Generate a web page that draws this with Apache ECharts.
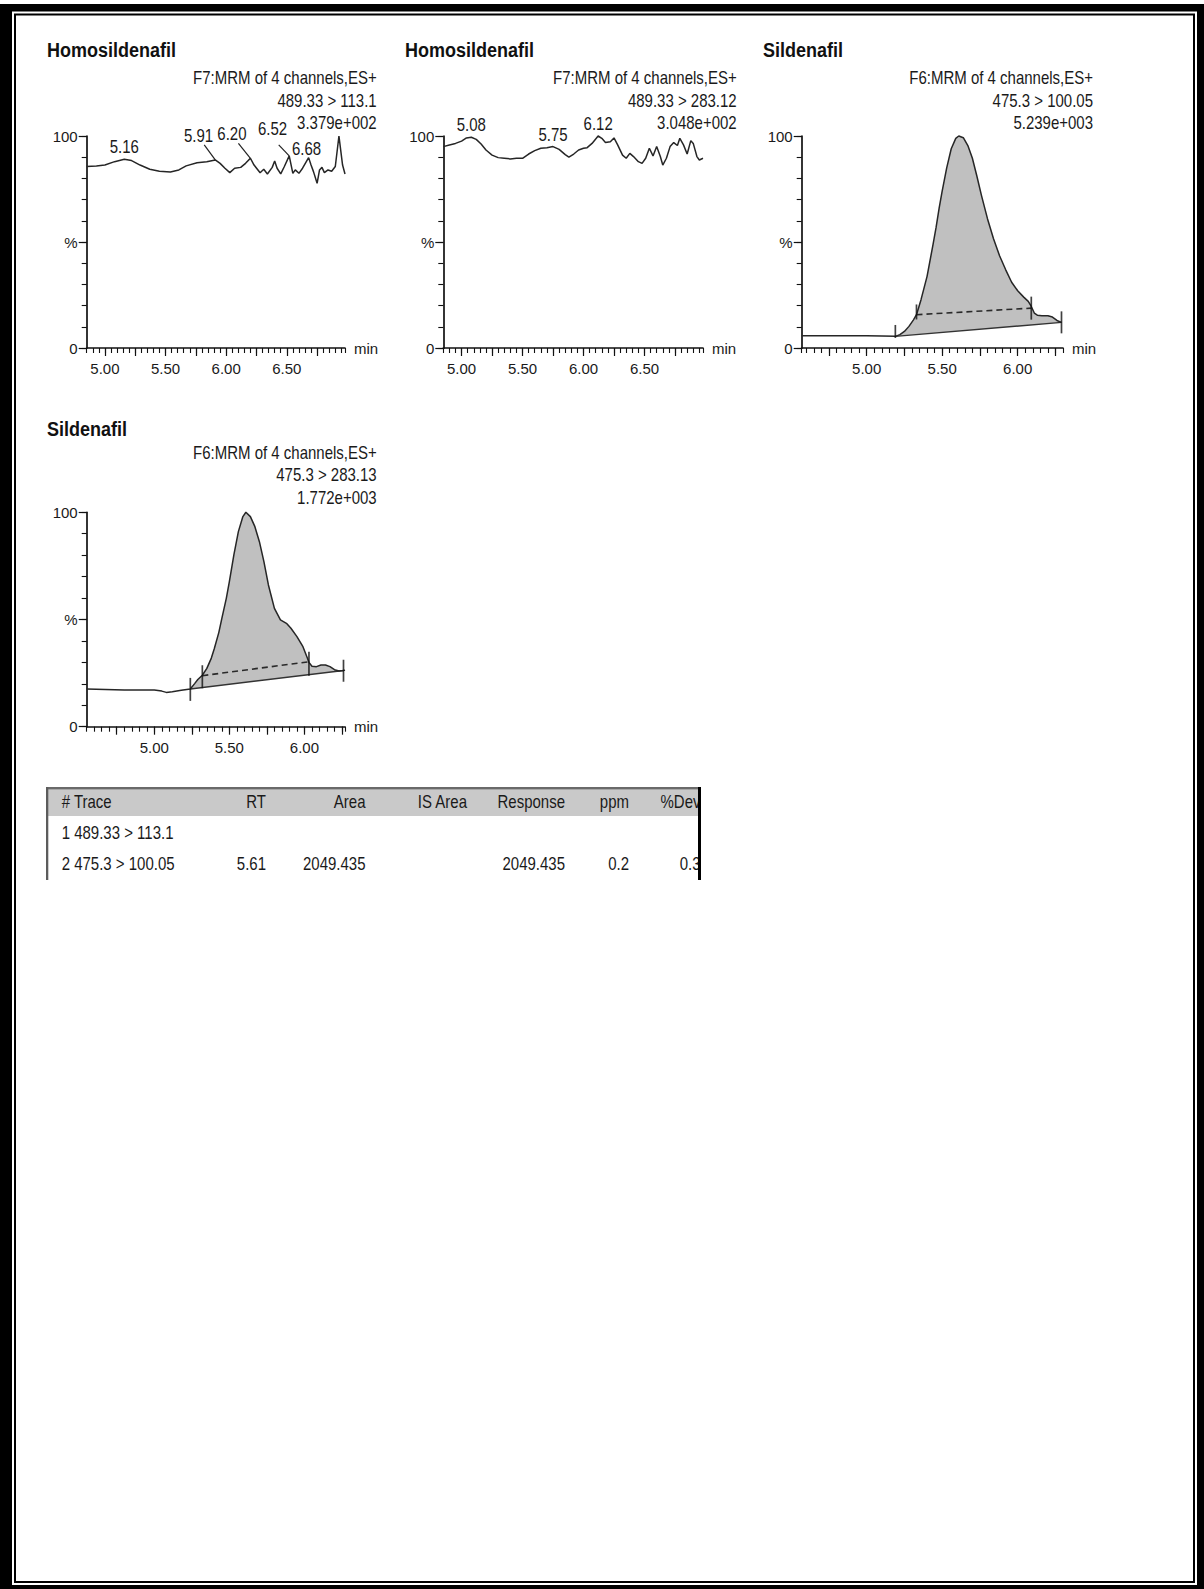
<!DOCTYPE html>
<html>
<head>
<meta charset="utf-8">
<title>MRM chromatograms – Homosildenafil / Sildenafil</title>
<script src="https://cdn.jsdelivr.net/npm/echarts@6/dist/echarts.min.js"></script>
<style>
  html, body { margin: 0; padding: 0; background: #fff; }
  #page { width: 1204px; height: 1589px; }
</style>
</head>
<body>
<div id="page"></div>
<script>
// ---------------- Data ----------------
// Homosildenafil, F7 MRM 489.33 > 113.1 (retention time, min / relative intensity, %)
const homo1Time = [4.85,4.93,5.00,5.08,5.16,5.22,5.29,5.37,5.45,5.54,5.61,5.67,5.76,5.84,5.91,5.95,5.99,6.03,6.07,6.12,6.16,6.20,6.23,6.28,6.31,6.34,6.38,6.40,6.42,6.45,6.48,6.52,6.55,6.57,6.60,6.63,6.68,6.70,6.72,6.75,6.77,6.79,6.81,6.84,6.87,6.90,6.93,6.96,6.98];
const homo1Pct  = [85.6,85.9,86.3,87.9,89.0,88.4,86.3,84.3,83.4,83.0,84.0,85.9,87.4,87.9,88.7,87.1,84.8,82.7,84.8,85.2,87.1,89.5,86.3,82.7,84.3,82.1,85.2,88.2,84.8,82.1,85.6,90.6,82.4,84.0,82.4,84.8,89.8,86.3,83.2,77.7,84.0,85.2,82.7,84.0,83.4,85.6,100,86.3,82.1];
const homo1Peaks = [5.16, 5.91, 6.20, 6.52, 6.68];
const homo1Info = ['F7:MRM of 4 channels,ES+', '489.33 > 113.1', '3.379e+002'];

// Homosildenafil, F7 MRM 489.33 > 283.12
const homo2Time = [4.85,4.90,4.95,5.00,5.04,5.08,5.12,5.16,5.20,5.25,5.30,5.35,5.40,5.45,5.50,5.55,5.60,5.65,5.70,5.75,5.80,5.85,5.88,5.92,5.96,6.00,6.03,6.07,6.12,6.15,6.18,6.22,6.25,6.28,6.32,6.35,6.38,6.41,6.45,6.48,6.51,6.54,6.57,6.60,6.63,6.65,6.68,6.71,6.74,6.77,6.79,6.82,6.85,6.88,6.90,6.93,6.95,6.98];
const homo2Pct  = [95.0,95.8,96.5,97.6,99.1,99.4,98.4,96.2,93.4,91.0,89.8,89.5,89.2,89.5,89.5,91.5,93.1,94.2,94.5,95.0,93.7,91.2,90.0,91.5,93.4,94.2,94.5,96.5,100,98.9,96.9,97.3,99.1,95.8,91.0,89.5,91.8,90.3,87.9,87.1,89.5,94.2,90.6,95.0,90.3,86.3,89.5,95.0,96.9,95.5,98.9,95.8,91.5,97.8,96.5,90.3,88.7,89.5];
const homo2Peaks = [5.08, 5.75, 6.12];
const homo2Info = ['F7:MRM of 4 channels,ES+', '489.33 > 283.12', '3.048e+002'];

// Sildenafil, F6 MRM 475.3 > 100.05
const sil1Time = [4.57,4.80,5.00,5.10,5.19,5.22,5.25,5.28,5.31,5.33,5.36,5.40,5.44,5.46,5.48,5.50,5.53,5.56,5.59,5.61,5.64,5.67,5.70,5.73,5.76,5.80,5.84,5.88,5.92,5.96,6.00,6.04,6.07,6.09,6.11,6.13,6.16,6.20,6.23,6.26,6.29];
const sil1Pct  = [5.8,5.8,5.8,5.7,5.5,6.3,7.8,10.2,13.3,15.7,22.8,33.8,49.0,57.0,66.0,74.0,85.0,94.0,98.9,100,99.2,95.5,89.5,81.0,72.0,61.0,51.5,43.5,37.0,31.0,27.0,24.0,22.0,19.6,16.5,15.5,15.2,15.2,14.6,13.0,12.1];
const sil1Baseline = [[5.19, 5.5], [6.29, 12.1]];
const sil1Dashed   = [[5.33, 15.7], [6.09, 18.8]];
const sil1Marks    = [[5.19, 7.8], [5.33, 17.0], [6.09, 18.8], [6.29, 12.1]];
const sil1Info = ['F6:MRM of 4 channels,ES+', '475.3 > 100.05', '5.239e+003'];

// Sildenafil, F6 MRM 475.3 > 283.13
const sil2Time = [4.55,4.80,5.00,5.05,5.08,5.12,5.18,5.24,5.27,5.29,5.32,5.35,5.38,5.40,5.43,5.45,5.48,5.50,5.53,5.56,5.59,5.61,5.64,5.67,5.70,5.73,5.76,5.80,5.84,5.88,5.91,5.95,5.99,6.02,6.03,6.05,6.08,6.11,6.14,6.17,6.20,6.23,6.26,6.27];
const sil2Pct  = [17.6,17.1,17.1,16.6,16.0,16.3,17.0,17.6,20.2,22.0,24.0,27.2,32.0,36.5,44.0,50.5,60.0,67.7,80.1,91.0,98.0,100,98.0,93.3,86.3,77.0,66.1,55.2,49.8,48.2,45.9,42.0,37.3,31.9,30.0,28.2,28.0,28.8,28.8,28.0,26.6,26.0,26.2,26.4];
const sil2Baseline = [[5.24, 17.6], [6.26, 26.2]];
const sil2Dashed   = [[5.32, 23.8], [6.03, 30.3]];
const sil2Marks    = [[5.24, 17.4], [5.32, 23.3], [6.03, 29.4], [6.26, 26.1]];
const sil2Info = ['F6:MRM of 4 channels,ES+', '475.3 > 283.13', '1.772e+003'];

// Axis ranges and tick labels
const homoRange = [4.85, 6.98];
const sil1Range = [4.57, 6.30];
const sil2Range = [4.55, 6.27];
const homoMajorTicks = [5.00, 5.25, 5.50, 5.75, 6.00, 6.25, 6.50, 6.75];
const homoTickLabels = [5.00, 5.50, 6.00, 6.50];
const silMajorTicks  = [4.75, 5.00, 5.25, 5.50, 5.75, 6.00, 6.25];
const silTickLabels  = [5.00, 5.50, 6.00];
const yLabelValues = [0, 50, 100];
const yLabelText = { 0: '0', 50: '%', 100: '100' };

// Quantitation table
const tableHeader = ['# Trace', 'RT', 'Area', 'IS Area', 'Response', 'ppm', '%Dev'];
const tableRows = [
  ['1 489.33 > 113.1', '', '', '', '', '', ''],
  ['2 475.3 > 100.05', '5.61', '2049.435', '', '2049.435', '0.2', '0.3']
];

// ---------------- Layout & style ----------------
const FONT = '"Liberation Sans", Arial, Helvetica, sans-serif';
const INK = '#1a1a1a';
const TRACE = '#262626';
const FILL = '#c0c0c0';
const TEXT_STRETCH = 1.18;   // report typeface is drawn slightly tall

const gridBoxes = [
  { left: 86.7,  top: 136,   width: 258.3, height: 212 },
  { left: 443.3, top: 136,   width: 259.7, height: 212 },
  { left: 801.7, top: 136,   width: 261.3, height: 212 },
  { left: 86.7,  top: 512.3, width: 258.3, height: 214.4 }
];
const titlePos = [[47, 50], [405, 50], [763, 50], [47, 429]];
const infoPos  = [[376.7, 78], [736.7, 78], [1093, 78], [376.7, 452.5]];
const infoStep = 22.5;

// label offsets (px) from the labelled apex, and optional leader line end
const homo1LabelOffset = [[0, -12.7], [-16.7, -24], [-18.5, -25], [-16.7, -27.7], [-2, -9.5]];
const homo1Leader      = [null, [-11, -15], [-12, -15], [-10.5, -11], null];
const homo2LabelOffset = [[0, -12.5], [0, -12], [0, -12.7]];
const homo2Leader      = [null, null, null];
const sil1MarkHeight = [13, 15, 23, 22];
const sil2MarkHeight = [23, 23, 24, 22];

const tableCols = [
  { x: 61.7,  align: 'left' },
  { x: 266,   align: 'right' },
  { x: 365.5, align: 'right' },
  { x: 467,   align: 'right' },
  { x: 565,   align: 'right' },
  { x: 629,   align: 'right' },
  { x: 700.5, align: 'right' }
];
const tableHeaderY = 802;
const tableRowY = [833, 863.5];

// ---------------- Helpers ----------------
const zip = (xs, ys) => xs.map((x, i) => [x, ys[i]]);
const textStyle = (size, weight) => ({ fontFamily: FONT, fontSize: size, fontWeight: weight || 'normal', color: INK });

function textEl(x, y, text, font, align, z) {
  return {
    type: 'text', x, y, z, scaleY: TEXT_STRETCH,
    style: { text, font, fill: INK, align, verticalAlign: 'middle', textAlign: align, textVerticalAlign: 'middle' }
  };
}

function timeAxes(gi, range, majorTicks, labels) {
  return [
    {
      type: 'value', gridIndex: gi, position: 'bottom', min: range[0], max: range[1],
      axisLine: { show: true, onZero: false, lineStyle: { color: '#111', width: 1.7 } },
      axisTick: { show: true, length: 8, customValues: majorTicks, lineStyle: { color: '#111', width: 1.2 } },
      axisLabel: { show: true, customValues: labels, margin: 13, formatter: v => v.toFixed(2), ...textStyle(15) },
      splitLine: { show: false },
      name: 'min', nameLocation: 'end', nameGap: 9,
      nameTextStyle: { ...textStyle(15), verticalAlign: 'middle', align: 'left' }
    },
    {
      type: 'value', gridIndex: gi, position: 'bottom', min: range[0], max: range[1],
      minInterval: 0.05, maxInterval: 0.05,
      axisLine: { show: false, onZero: false },
      axisTick: { show: true, length: 5, lineStyle: { color: '#111', width: 1.1 } },
      axisLabel: { show: false }, splitLine: { show: false }
    }
  ];
}

function pctAxes(gi) {
  return [
    {
      type: 'value', gridIndex: gi, position: 'left', min: 0, max: 100,
      axisLine: { show: true, onZero: false, lineStyle: { color: '#111', width: 1.7 } },
      axisTick: { show: true, length: 8, customValues: yLabelValues, lineStyle: { color: '#111', width: 1.2 } },
      axisLabel: { show: true, customValues: yLabelValues, margin: 9, formatter: v => yLabelText[v] ?? '', ...textStyle(15) },
      splitLine: { show: false }
    },
    {
      type: 'value', gridIndex: gi, position: 'left', min: 0, max: 100, interval: 10,
      axisLine: { show: false, onZero: false },
      axisTick: { show: true, length: 5, lineStyle: { color: '#111', width: 1.1 } },
      axisLabel: { show: false }, splitLine: { show: false }
    }
  ];
}

function traceSeries(gi, time, pct) {
  return {
    type: 'line', xAxisIndex: 2 * gi, yAxisIndex: 2 * gi, data: zip(time, pct),
    showSymbol: false, symbol: 'none', clip: false, z: 4, silent: true,
    lineStyle: { color: TRACE, width: 1.5 }
  };
}

function peakLabelSeries(gi, time, pct, peaks, offsets, leaders) {
  const data = peaks.map(t => [t, pct[time.indexOf(t)]]);
  return {
    type: 'custom', xAxisIndex: 2 * gi, yAxisIndex: 2 * gi, data, z: 6, silent: true, clip: false,
    renderItem(params, api) {
      const t = api.value(0);
      const pt = api.coord([t, api.value(1)]);
      const off = offsets[params.dataIndex];
      const ld = leaders[params.dataIndex];
      const children = [textEl(pt[0] + off[0], pt[1] + off[1], t.toFixed(2), '15px ' + FONT, 'center', 0)];
      if (ld) {
        children.push({
          type: 'line',
          shape: { x1: pt[0], y1: pt[1], x2: pt[0] + ld[0], y2: pt[1] + ld[1] },
          style: { stroke: '#222', lineWidth: 1.2 }
        });
      }
      return { type: 'group', children };
    }
  };
}

function integrationSeries(gi, time, pct, baseline, dashed, marks, markHeights) {
  const x0 = baseline[0][0], x1 = baseline[1][0];
  const upper = zip(time, pct).filter(p => p[0] >= x0 && p[0] <= x1);
  return [
    { // shaded peak area between the trace and the integration baseline
      type: 'custom', xAxisIndex: 2 * gi, yAxisIndex: 2 * gi, data: [baseline[0]], z: 1, silent: true, clip: false,
      renderItem(params, api) {
        const pts = upper.map(p => api.coord(p));
        pts.push(api.coord(baseline[1]));
        pts.push(api.coord(baseline[0]));
        return { type: 'polygon', shape: { points: pts }, style: { fill: FILL, stroke: 'none' } };
      }
    },
    {
      type: 'line', xAxisIndex: 2 * gi, yAxisIndex: 2 * gi, data: baseline, symbol: 'none', z: 3, silent: true,
      lineStyle: { color: '#333', width: 1.4 }
    },
    {
      type: 'line', xAxisIndex: 2 * gi, yAxisIndex: 2 * gi, data: dashed, symbol: 'none', z: 3, silent: true,
      lineStyle: { color: '#2a2a2a', width: 1.6, type: [6, 4] }
    },
    {
      type: 'scatter', xAxisIndex: 2 * gi, yAxisIndex: 2 * gi, data: marks, z: 5, silent: true, clip: false,
      symbol: 'rect', symbolSize: (v, p) => [1.7, markHeights[p.dataIndex]],
      itemStyle: { color: '#111' }
    }
  ];
}

// ---------------- Page decorations: titles, channel info, table, frame ----------------
const titles = ['Homosildenafil', 'Homosildenafil', 'Sildenafil', 'Sildenafil'];
const infos = [homo1Info, homo2Info, sil1Info, sil2Info];
const graphics = [];

titles.forEach((t, i) => {
  const el = textEl(titlePos[i][0], titlePos[i][1], t, 'bold 18px ' + FONT, 'left', 10);
  el.scaleY = 1.08;
  el.style.fill = '#111';
  graphics.push(el);
  infos[i].forEach((line, k) => {
    graphics.push(textEl(infoPos[i][0], infoPos[i][1] + k * infoStep, line, '15px ' + FONT, 'right', 10));
  });
});

// table header band
graphics.push({ type: 'rect', z: 10, shape: { x: 46, y: 789.5, width: 653, height: 26.5 }, style: { fill: '#c9c9c9' } });
graphics.push({ type: 'rect', z: 10, shape: { x: 46, y: 787, width: 653, height: 2.6 }, style: { fill: '#6a6a6a' } });
tableHeader.forEach((h, c) => {
  graphics.push(textEl(tableCols[c].x, tableHeaderY, h, '15px ' + FONT, tableCols[c].align, 11));
});
tableRows.forEach((row, r) => {
  row.forEach((cell, c) => {
    if (!cell) return;
    graphics.push(textEl(tableCols[c].x, tableRowY[r], cell, '15px ' + FONT, tableCols[c].align, 11));
  });
});
// table side rules
graphics.push({ type: 'rect', z: 12, shape: { x: 46, y: 787, width: 2.3, height: 93 }, style: { fill: '#5c5c5c' } });
graphics.push({ type: 'rect', z: 12, shape: { x: 698, y: 787, width: 3, height: 93 }, style: { fill: '#000' } });
graphics.push({ type: 'rect', z: 12, shape: { x: 701, y: 780, width: 12, height: 100 }, style: { fill: '#fff' } });

// double page frame
graphics.push({ type: 'rect', z: 20, shape: { x: 0, y: 4, width: 1204, height: 7.5 }, style: { fill: '#000' } });
graphics.push({ type: 'rect', z: 20, shape: { x: 0, y: 4, width: 12, height: 1585 }, style: { fill: '#000' } });
graphics.push({ type: 'rect', z: 20, shape: { x: 1197, y: 4, width: 7, height: 1585 }, style: { fill: '#000' } });
graphics.push({ type: 'rect', z: 20, shape: { x: 0, y: 1585, width: 1204, height: 4 }, style: { fill: '#000' } });
graphics.push({ type: 'rect', z: 20, shape: { x: 15, y: 14.5, width: 1179, height: 1567.5 },
                style: { fill: 'none', stroke: '#000', lineWidth: 2 } });

// ---------------- Chart ----------------
const xAxes = [
  ...timeAxes(0, homoRange, homoMajorTicks, homoTickLabels),
  ...timeAxes(1, homoRange, homoMajorTicks, homoTickLabels),
  ...timeAxes(2, sil1Range, silMajorTicks, silTickLabels),
  ...timeAxes(3, sil2Range, silMajorTicks, silTickLabels)
];
const yAxes = [...pctAxes(0), ...pctAxes(1), ...pctAxes(2), ...pctAxes(3)];

const series = [
  traceSeries(0, homo1Time, homo1Pct),
  peakLabelSeries(0, homo1Time, homo1Pct, homo1Peaks, homo1LabelOffset, homo1Leader),
  traceSeries(1, homo2Time, homo2Pct),
  peakLabelSeries(1, homo2Time, homo2Pct, homo2Peaks, homo2LabelOffset, homo2Leader),
  ...integrationSeries(2, sil1Time, sil1Pct, sil1Baseline, sil1Dashed, sil1Marks, sil1MarkHeight),
  traceSeries(2, sil1Time, sil1Pct),
  ...integrationSeries(3, sil2Time, sil2Pct, sil2Baseline, sil2Dashed, sil2Marks, sil2MarkHeight),
  traceSeries(3, sil2Time, sil2Pct)
];

const chart = echarts.init(document.getElementById('page'), null, { renderer: 'svg', width: 1204, height: 1589 });
chart.setOption({
  animation: false,
  backgroundColor: '#fff',
  textStyle: { fontFamily: FONT },
  grid: gridBoxes.map(b => ({ ...b, containLabel: false })),
  xAxis: xAxes,
  yAxis: yAxes,
  series,
  graphic: { elements: graphics }
});
</script>
</body>
</html>
